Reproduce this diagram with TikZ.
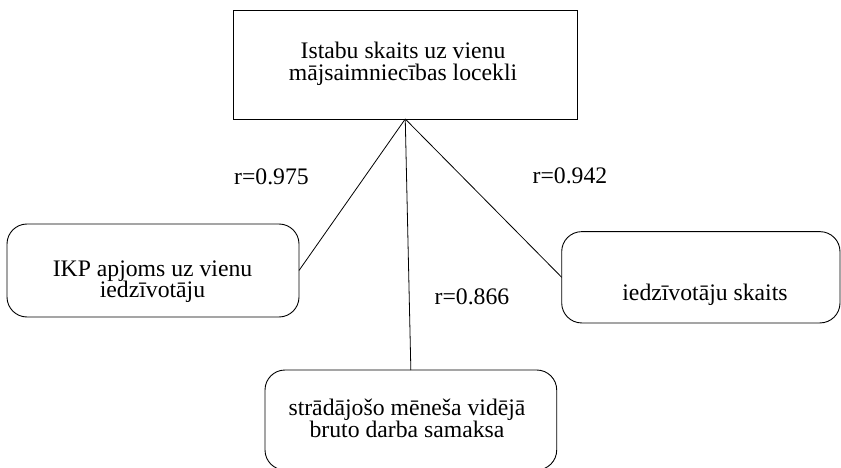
\documentclass[tikz,border=0pt]{standalone}
\usepackage{fontspec}
\setmainfont{Liberation Serif}
\begin{document}
\begin{tikzpicture}[x=1pt,y=-1pt,
  every node/.style={font=\fontsize{23.7}{21.7}\selectfont, inner sep=0pt, outer sep=0pt},
  plainbox/.style={draw, line width=0.9pt},
  softbox/.style={draw, line width=0.9pt, rounded corners=20pt},
  txt/.style={anchor=base},
  link/.style={line width=0.8pt}]
\useasboundingbox (0,0) rectangle (841,468);

% boxes
\node[plainbox, minimum width=343.5pt, minimum height=109pt] (top) at (405.25,64.5) {};
\node[softbox, minimum width=292pt, minimum height=93pt] (left) at (153,270.5) {};
\node[softbox, minimum width=278.3pt, minimum height=91.3pt] (right) at (700.85,277.3) {};
\node[softbox, minimum width=291.7pt, minimum height=100pt] (bottom) at (410.85,420) {};

% box texts, one node per line
\node[txt] (topA) at (403,59) {Istabu skaits uz vienu};
\node[txt] (topB) at (403,80.7) {mājsaimniecības locekli};
\node[txt] (leftA) at (152.5,276) {IKP apjoms uz vienu};
\node[txt] (leftB) at (152.5,297.7) {iedzīvotāju};
\node[txt] (rightA) at (705,300) {iedzīvotāju skaits};
\node[txt] (bottomA) at (407,415) {strādājošo mēneša vidējā};
\node[txt] (bottomB) at (407,437.7) {bruto darba samaksa};

% connectors
\draw[link] (top.south) -- (left.east);
\draw[link] (top.south) -- (bottom.north);
\draw[link] (top.south) -- (right.west);

% correlation labels
\node[txt] (rleft) at (271.5,185) {r=0.975};
\node[txt] (rright) at (570,183) {r=0.942};
\node[txt] (rmid) at (472,304) {r=0.866};
\end{tikzpicture}
\end{document}
